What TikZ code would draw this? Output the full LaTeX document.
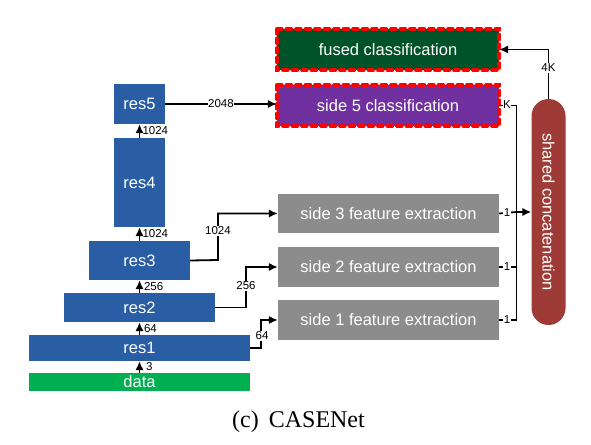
\documentclass[tikz,border=0pt]{standalone}
\usepackage{fontspec}
\setmainfont{Liberation Sans}
\newfontfamily\capfont{Liberation Serif}
\usetikzlibrary{arrows.meta}
\definecolor{resblue}{RGB}{42,94,164}
\definecolor{datagreen}{RGB}{0,176,80}
\definecolor{fusedgreen}{RGB}{0,83,41}
\definecolor{sidepurple}{RGB}{112,48,160}
\definecolor{sidegray}{RGB}{140,140,140}
\definecolor{concatred}{RGB}{158,59,54}
\tikzset{
  x=1pt, y=-1pt,
  blk/.style={draw=none, inner sep=0pt, text=white, font=\fontsize{16.5}{18}\selectfont},
  resbox/.style={blk, fill=resblue},
  sidebox/.style={blk, fill=sidegray, minimum width=221pt},
  clsbox/.style={blk, minimum width=222pt, minimum height=41pt},
  redborder/.style={draw=red, line width=3.5pt, dash pattern=on 5pt off 4.5pt, line cap=round},
  lbl/.style={font=\fontsize{11.5}{13}\selectfont, fill=white, inner sep=0.6pt},
  conn/.style={line width=1.8pt, draw=black},
  arr/.style={conn, -{Latex[length=9pt,width=8.5pt]}},
}
\begin{document}
\begin{tikzpicture}
\useasboundingbox (0,0) rectangle (591,444);
% backbone
\node[resbox, fill=datagreen, minimum width=221pt, minimum height=18pt] (data) at (139.5,382) {data};
\node[resbox, minimum width=221pt, minimum height=26pt] (res1) at (139.5,348) {res1};
\node[resbox, minimum width=151pt, minimum height=29pt] (res2) at (139.5,307.5) {res2};
\node[resbox, minimum width=101pt, minimum height=39pt] (res3) at (139.5,260.5) {res3};
\node[resbox, minimum width=51pt, minimum height=89pt] (res4) at (139.5,182.5) {res4};
\node[resbox, minimum width=51pt, minimum height=40pt] (res5) at (139.5,104) {res5};

% side outputs
\node[clsbox, fill=fusedgreen] (fused) at (388,49.5) {fused classification};
\node[clsbox, fill=sidepurple] (side5) at (388,105.5) {side 5 classification};
\draw[redborder] (fused.north west) rectangle (fused.south east);
\draw[redborder] (side5.north west) rectangle (side5.south east);
\node[sidebox, minimum height=39pt] (side3) at (388.5,213.5) {side 3 feature extraction};
\node[sidebox, minimum height=40pt] (side2) at (388.5,267) {side 2 feature extraction};
\node[sidebox, minimum height=40pt] (side1) at (388.5,320) {side 1 feature extraction};

\node[blk, fill=concatred, minimum width=34pt, minimum height=226pt, rounded corners=17pt] (concat) at (548.5,212) {};
\node[text=white, font=\fontsize{16.5}{18}\selectfont, rotate=-90] (concattext) at (concat.center) {shared concatenation};

% backbone arrows
\draw[arr] (data.north) -- (res1.south) node[midway, right=5pt, lbl, fill=none] {3};
\draw[arr] (res1.north) -- (res2.south) node[midway, right=3pt, lbl, fill=none] {64};
\draw[arr] (res2.north) -- (res3.south) node[midway, right=3pt, lbl, fill=none] {256};
\draw[arr] (res3.north) -- (res4.south) node[midway, right=1.5pt, lbl, fill=none] {1024};
\draw[arr] (res4.north) -- (res5.south) node[midway, right=1.5pt, lbl, fill=none] {1024};

% res -> side
\draw[arr] (res5.east) -- (side5.west |- res5.east) node[pos=0.5, lbl] {2048};
\coordinate (c3) at (218,260);
\draw[arr] (res3.east) -- (c3) -- (218,213.5) -- (side3.west);
\node[lbl] (l3) at (218,231) {1024};
\draw[arr] (res2.east) -- (246,307.5) -- (246,267) -- (side2.west);
\node[lbl] (l2) at (246,286) {256};
\draw[arr] (res1.east) -- (261,348) -- (261,320) -- (side1.west);
\node[lbl] (l1) at (262,336) {64};

% bus
\coordinate (bustop) at (516.5,105.5);
\coordinate (busbot) at (516.5,320);
\coordinate (bus3) at (516.5,212);
\draw[conn] (side5.east) -- (bustop) -- (busbot);
\draw[conn] (side3.east) -- (bus3);
\draw[conn] (side2.east) -- (516.5,267);
\draw[conn] (side1.east) -- (busbot);
\node[lbl] (k5) at (507,105) {K};
\node[lbl] (k3) at (507,213) {1};
\node[lbl] (k2) at (507,267) {1};
\node[lbl] (k1) at (507,320) {1};
\draw[arr] (bus3) -- (concat.west |- bus3);

% concat -> fused
\coordinate (ctop) at (548.5,49.5);
\draw[arr] (concat.north) -- (ctop) -- (fused.east);
\node[lbl] (l4k) at (548.5,68) {4K};

% caption
\node[anchor=base west, inner sep=0pt, font=\capfont\fontsize{24}{27}\selectfont] (cap) at (232,427) {(c)\hspace{10pt}CASENet};
\end{tikzpicture}
\end{document}
